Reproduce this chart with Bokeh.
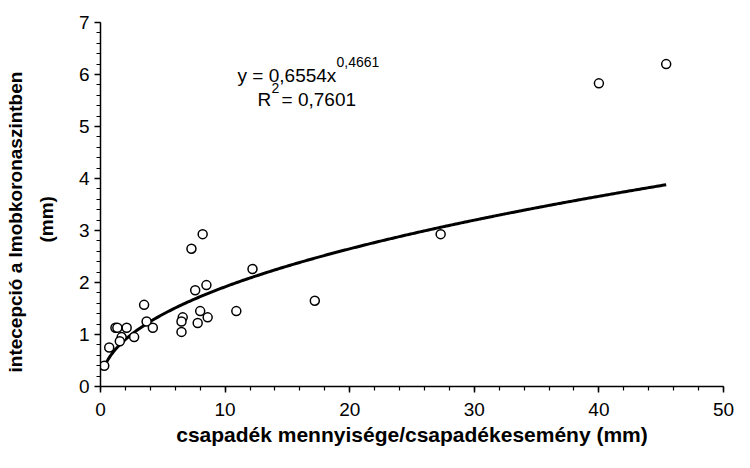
from bokeh.plotting import figure
from bokeh.models import Label, Range1d, SingleIntervalTicker, Title
from bokeh.embed import file_html
from bokeh.resources import INLINE
import numpy as np

# measured points: precipitation per event (mm) vs canopy interception (mm)
x_vals = [0.3, 0.7, 1.2, 1.35, 2.1, 1.7, 1.55, 2.7, 3.5, 3.7, 4.2,
          6.6, 6.5, 6.5, 8.2, 7.3, 12.2, 7.6, 8.5, 8.0, 8.6, 7.8,
          10.9, 17.2, 27.3, 40.0, 45.4]
y_vals = [0.4, 0.75, 1.13, 1.13, 1.13, 0.95, 0.87, 0.95, 1.57, 1.25, 1.13,
          1.33, 1.25, 1.05, 2.93, 2.65, 2.26, 1.85, 1.95, 1.45, 1.33, 1.22,
          1.45, 1.65, 2.93, 5.83, 6.2]

# power trendline coefficients shown on the chart
coef_a = 0.6554
coef_b = 0.4661
r_squared_text = "0,7601"

x_title = "csapadék mennyisége/csapadékesemény (mm)"
y_title_1 = "intecepció a lmobkoronaszintben"
y_title_2 = "(mm)"

FONT = "Liberation Sans"

p = figure(width=734, height=452, output_backend="svg", toolbar_location=None,
           x_range=Range1d(0, 50), y_range=Range1d(0, 7),
           min_border_left=100, min_border_right=11, min_border_top=22,
           min_border_bottom=66)

p.grid.visible = False
p.outline_line_color = None
p.background_fill_color = "white"
p.border_fill_color = "white"

p.xaxis.ticker = SingleIntervalTicker(interval=10, num_minor_ticks=5)
p.yaxis.ticker = SingleIntervalTicker(interval=1, num_minor_ticks=5)

for ax in (p.xaxis, p.yaxis):
    ax.axis_line_color = "black"
    ax.axis_line_width = 1.5
    ax.major_tick_line_color = "black"
    ax.major_tick_line_width = 1.5
    ax.minor_tick_line_color = "black"
    ax.minor_tick_line_width = 1.2
    ax.major_tick_in = 0
    ax.major_tick_out = 6
    ax.minor_tick_in = 0
    ax.minor_tick_out = 4
    ax.major_label_text_font = FONT
    ax.major_label_text_font_size = "19px"
    ax.major_label_text_color = "black"
    ax.axis_label_text_font = FONT
    ax.axis_label_text_font_style = "bold"
    ax.axis_label_text_color = "black"

p.xaxis.axis_label = x_title
p.xaxis.axis_label_text_font_size = "21px"
p.xaxis.major_label_standoff = 10
p.xaxis.axis_label_standoff = 4

p.yaxis.major_label_standoff = 5
# blank, tiny axis label used only as a spacer before the title lines
p.yaxis.axis_label = " "
p.yaxis.axis_label_text_font_size = "1px"
p.yaxis.axis_label_standoff = 8

# y axis title: two vertical lines in the left panel
p.add_layout(Title(text=y_title_2, align="left", offset=144, standoff=14,
                   text_font=FONT, text_font_style="bold", text_font_size="19px",
                   text_color="black"), "left")
p.add_layout(Title(text=y_title_1, align="left", offset=14, standoff=2,
                   text_font=FONT, text_font_style="bold", text_font_size="19px",
                   text_color="black"), "left")

# trendline
xs = np.linspace(min(x_vals), max(x_vals), 300)
ys = coef_a * xs ** coef_b
p.line(xs, ys, line_color="black", line_width=3)

# data points
p.scatter(x_vals, y_vals, marker="circle", size=9, fill_color="white",
          line_color="black", line_width=1.5)

# equation text
def lab(x, y, text, size):
    p.add_layout(Label(x=x, y=y, text=text, text_font=FONT, text_font_size=size,
                       text_color="black", text_baseline="alphabetic",
                       text_align="left"))

lab(11.0, 5.99, "y = " + f"{coef_a}".replace(".", ",") + "x", "19px")
lab(18.94, 6.24, f"{coef_b}".replace(".", ","), "14px")
lab(12.6, 5.52, "R", "19px")
lab(13.72, 5.75, "2", "14px")
lab(14.53, 5.52, "= " + r_squared_text, "19px")

open("out.html", "w").write(file_html(p, INLINE))
